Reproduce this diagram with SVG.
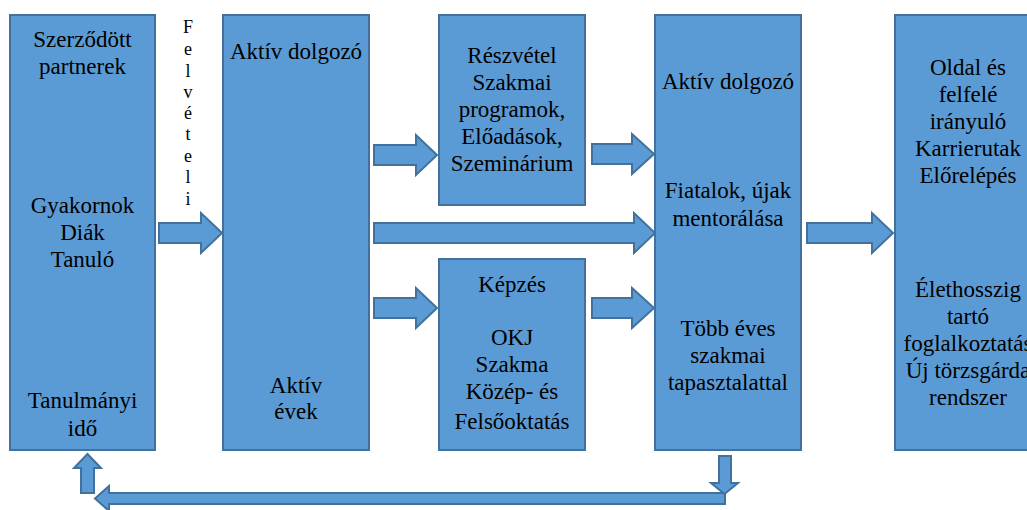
<svg xmlns="http://www.w3.org/2000/svg" width="1027" height="510" viewBox="0 0 1027 510">
<style>
.box{fill:#5B9BD5;stroke:#41719C;stroke-width:2}
.arr{fill:#5B9BD5;stroke:#41719C;stroke-width:2;stroke-linejoin:miter}
text{font-family:"Liberation Serif","Times New Roman",serif;font-size:23px;fill:#000;text-anchor:middle}
.v{font-size:18px}
</style>
<rect width="1027" height="510" fill="#fff"/>
<g id="connectors">
<polygon class="arr" points="159,223 201,223 201,213 222,233 201,253 201,243 159,243"/>
<polygon class="arr" points="374,145 416,145 416,135 437,155 416,175 416,165 374,165"/>
<polygon class="arr" points="374,223 634,223 634,213 655,233 634,253 634,243 374,243"/>
<polygon class="arr" points="374,298 416,298 416,288 437,308 416,328 416,318 374,318"/>
<polygon class="arr" points="592,144 632,144 632,134 654,154 632,174 632,164 592,164"/>
<polygon class="arr" points="592,298 632,298 632,288 654,308 632,328 632,318 592,318"/>
<polygon class="arr" points="807,223 872,223 872,213 893,233 872,253 872,243 807,243"/>
<polygon class="arr" points="725,493 109,493 109,486 95,498.5 109,511 109,504 725,504"/>
<polygon class="arr" points="719,456 731,456 731,483 738,483 724.5,494 711,483 719,483"/>
<polygon class="arr" points="87.5,454 101,468 94,468 94,493 81,493 81,468 74,468"/>
</g>
<g id="felveteli">
<text class="v" x="188" y="33">F</text>
<text class="v" x="188" y="55">e</text>
<text class="v" x="188" y="77">l</text>
<text class="v" x="188" y="98">v</text>
<text class="v" x="188" y="119">é</text>
<text class="v" x="188" y="140">t</text>
<text class="v" x="188" y="162">e</text>
<text class="v" x="188" y="183">l</text>
<text class="v" x="188" y="205">i</text>
</g>
<g id="node1">
<rect class="box" x="10" y="15" width="145" height="435"/>
<text x="82.5" y="47">Szerződött</text>
<text x="82.5" y="74">partnerek</text>
<text x="82.5" y="213">Gyakornok</text>
<text x="82.5" y="240">Diák</text>
<text x="82.5" y="267">Tanuló</text>
<text x="82.5" y="408">Tanulmányi</text>
<text x="82.5" y="436">idő</text>
</g>
<g id="node2">
<rect class="box" x="223" y="15" width="146" height="435"/>
<text x="296" y="59">Aktív dolgozó</text>
<text x="296" y="393">Aktív</text>
<text x="296" y="419">évek</text>
</g>
<g id="node3">
<rect class="box" x="439" y="15" width="146" height="190"/>
<text x="512" y="63">Részvétel</text>
<text x="512" y="90">Szakmai</text>
<text x="512" y="117">programok,</text>
<text x="512" y="144">Előadások,</text>
<text x="512" y="171">Szeminárium</text>
</g>
<g id="node4">
<rect class="box" x="439" y="259" width="146" height="191"/>
<text x="512" y="292">Képzés</text>
<text x="512" y="345">OKJ</text>
<text x="512" y="372">Szakma</text>
<text x="512" y="399">Közép- és</text>
<text x="512" y="429">Felsőoktatás</text>
</g>
<g id="node5">
<rect class="box" x="655" y="15" width="146" height="435"/>
<text x="728" y="89">Aktív dolgozó</text>
<text x="728" y="198">Fiatalok, újak</text>
<text x="728" y="226">mentorálása</text>
<text x="728" y="336">Több éves</text>
<text x="728" y="363">szakmai</text>
<text x="728" y="390">tapasztalattal</text>
</g>
<g id="node6">
<rect class="box" x="895" y="15" width="146" height="435"/>
<text x="968" y="75">Oldal és</text>
<text x="968" y="102">felfelé</text>
<text x="968" y="129">irányuló</text>
<text x="968" y="156">Karrierutak</text>
<text x="968" y="183">Előrelépés</text>
<text x="968" y="297">Élethosszig</text>
<text x="968" y="324">tartó</text>
<text x="968" y="351">foglalkoztatás</text>
<text x="968" y="378">Új törzsgárda</text>
<text x="968" y="405">rendszer</text>
</g>
</svg>
